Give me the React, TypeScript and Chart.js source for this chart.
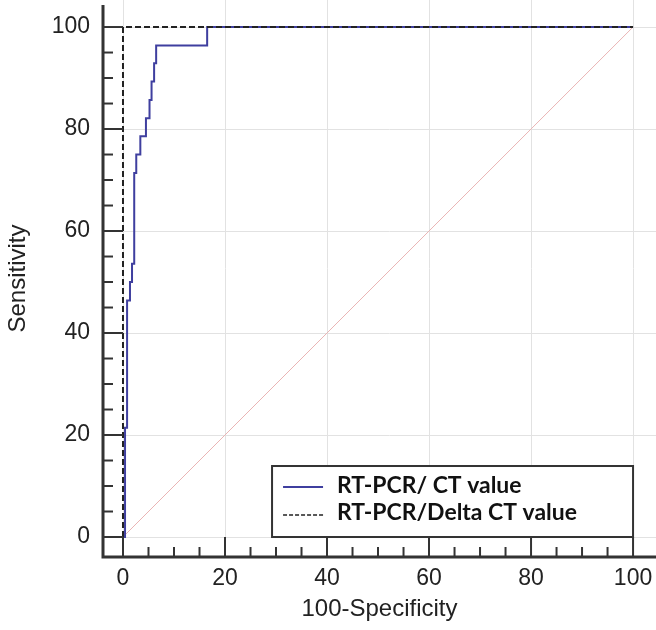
import React, { useEffect, useRef } from 'react';
import { Chart, registerables } from 'chart.js';

Chart.register(...registerables);

// ROC operating points (100-Specificity, Sensitivity)
const fprCT = [0, 0.4, 0.8, 1.37, 1.77, 2.2, 2.6, 3.4, 4.5, 5.2, 5.6, 6.1, 6.5, 16.5, 100];
const tprCT = [0, 21.4, 46.4, 50.0, 53.6, 71.4, 75.0, 78.6, 82.1, 85.7, 89.3, 92.9, 96.4, 100, 100];
const fprDelta = [0, 0, 100];
const tprDelta = [0, 100, 100];
const refX = [0, 100];
const refY = [0, 100];
const majorTicks = [0, 20, 40, 60, 80, 100];
const minorStep = 5;
const legendLabels = ['RT-PCR/ CT value', 'RT-PCR/Delta CT value'];
const xTitle = '100-Specificity';
const yTitle = 'Sensitivity';

const BLUE = '#3f3f9f';
const DARK = '#222222';
const AXIS = '#333333';
const GRID = '#e2e2e2';
const DIAG = '#eab4b4';
const FONT = "'Liberation Sans', Arial, sans-serif";

const toPts = (xs: number[], ys: number[]) => xs.map((v, i) => ({ x: v, y: ys[i] }));

const decor = {
  id: 'decor',
  beforeDatasetsDraw(chart: any) {
    const { ctx, chartArea, scales } = chart;
    const x = scales.x, y = scales.y;
    const x0 = x.getPixelForValue(0);
    const y0 = y.getPixelForValue(0);
    ctx.save();
    ctx.strokeStyle = GRID;
    ctx.lineWidth = 1;
    majorTicks.forEach((v) => {
      const px = Math.round(x.getPixelForValue(v)) + 0.5;
      ctx.beginPath();
      ctx.moveTo(px, y0);
      ctx.lineTo(px, chartArea.top);
      ctx.stroke();
      const py = Math.round(y.getPixelForValue(v)) + 0.5;
      ctx.beginPath();
      ctx.moveTo(x0, py);
      ctx.lineTo(chartArea.right, py);
      ctx.stroke();
    });
    ctx.restore();
  },
  afterDraw(chart: any) {
    const { ctx, chartArea, scales } = chart;
    const x = scales.x, y = scales.y;
    const x0 = x.getPixelForValue(0);
    const y0 = y.getPixelForValue(0);
    const L = chartArea.left;
    const B = chartArea.bottom;
    ctx.save();
    // axis lines
    ctx.strokeStyle = AXIS;
    ctx.lineWidth = 3;
    ctx.beginPath();
    ctx.moveTo(L, chartArea.top + 5);
    ctx.lineTo(L, B + 1.5);
    ctx.moveTo(L - 1.5, B);
    ctx.lineTo(chartArea.right, B);
    ctx.stroke();
    // inward tick marks
    ctx.lineWidth = 2;
    for (let v = 0; v <= 100; v += minorStep) {
      const major = v % 20 === 0;
      const py = y.getPixelForValue(v);
      ctx.beginPath();
      ctx.moveTo(L, py);
      ctx.lineTo(major ? x0 : L + 10, py);
      ctx.stroke();
      const px = x.getPixelForValue(v);
      ctx.beginPath();
      ctx.moveTo(px, B);
      ctx.lineTo(px, major ? y0 : B - 10);
      ctx.stroke();
    }
    // legend box anchored at (100, 0)
    const right = x.getPixelForValue(100);
    const bottom = y0;
    const w = 361, h = 71;
    const left = right - w, top = bottom - h;
    ctx.fillStyle = '#ffffff';
    ctx.fillRect(left, top, w, h);
    ctx.strokeStyle = AXIS;
    ctx.lineWidth = 2;
    ctx.strokeRect(left, top, w, h);
    // samples
    ctx.strokeStyle = BLUE;
    ctx.lineWidth = 2;
    ctx.beginPath();
    ctx.moveTo(left + 11, top + 21);
    ctx.lineTo(left + 51, top + 21);
    ctx.stroke();
    ctx.strokeStyle = DARK;
    ctx.lineWidth = 1.5;
    ctx.setLineDash([4, 2]);
    ctx.beginPath();
    ctx.moveTo(left + 11, top + 49);
    ctx.lineTo(left + 51, top + 49);
    ctx.stroke();
    ctx.setLineDash([]);
    // text, sized so the longer label spans ~240px
    let size = 20;
    ctx.font = `bold ${size}px Lato, 'Open Sans', sans-serif`;
    const mw = ctx.measureText(legendLabels[1]).width;
    size = (size * 240) / mw;
    ctx.font = `bold ${size}px Lato, 'Open Sans', sans-serif`;
    ctx.fillStyle = '#111111';
    ctx.textAlign = 'left';
    ctx.textBaseline = 'alphabetic';
    ctx.fillText(legendLabels[0], left + 65, top + 27);
    ctx.fillText(legendLabels[1], left + 65, top + 54);
    ctx.restore();
  },
};

export default function App() {
  const ref = useRef<HTMLCanvasElement | null>(null);
  useEffect(() => {
    document.body.style.margin = '0';
    const canvas = ref.current;
    if (!canvas) return;
    const chart = new Chart(canvas, {
      type: 'scatter',
      data: {
        datasets: [
          {
            label: 'Reference',
            data: toPts(refX, refY),
            showLine: true,
            borderColor: DIAG,
            borderWidth: 1,
            pointRadius: 0,
            order: 3,
          },
          {
            label: legendLabels[0],
            data: toPts(fprCT, tprCT),
            showLine: true,
            stepped: 'before',
            borderColor: BLUE,
            borderWidth: 2,
            pointRadius: 0,
            order: 2,
          },
          {
            label: legendLabels[1],
            data: toPts(fprDelta, tprDelta),
            showLine: true,
            borderColor: DARK,
            borderWidth: 2,
            borderDash: [6, 3],
            pointRadius: 0,
            order: 1,
          },
        ],
      } as any,
      options: {
        responsive: false,
        animation: false,
        layout: { padding: 0 },
        plugins: { legend: { display: false }, tooltip: { enabled: false } },
        scales: {
          x: {
            type: 'linear',
            min: -3.92,
            max: 104.5,
            grid: { display: false, drawTicks: false },
            border: { display: false },
            afterBuildTicks: (s: any) => {
              s.ticks = majorTicks.map((v) => ({ value: v }));
            },
            afterFit: (s: any) => {
              s.height = 73;
              s.paddingLeft = 0;
              s.paddingRight = 0;
            },
            ticks: {
              autoSkip: false,
              maxRotation: 0,
              padding: 8,
              color: DARK,
              font: { family: FONT, size: 23 },
            },
            title: {
              display: true,
              text: xTitle,
              color: DARK,
              font: { family: FONT, size: 24 },
              padding: { top: 0, bottom: 6 },
            },
          },
          y: {
            type: 'linear',
            min: -3.92,
            max: 105.3,
            grid: { display: false, drawTicks: false },
            border: { display: false },
            afterBuildTicks: (s: any) => {
              s.ticks = majorTicks.map((v) => ({ value: v }));
            },
            afterFit: (s: any) => {
              s.width = 103;
              s.paddingTop = 0;
              s.paddingBottom = 0;
            },
            ticks: {
              autoSkip: false,
              padding: 13,
              color: DARK,
              font: { family: FONT, size: 23 },
            },
            title: {
              display: true,
              text: yTitle,
              color: DARK,
              font: { family: FONT, size: 24 },
              padding: { top: 4, bottom: 0 },
            },
          },
        },
      } as any,
      plugins: [decor],
    });
    return () => chart.destroy();
  }, []);
  return (
    <div style={{ width: 656, height: 630 }}>
      <canvas ref={ref} width={656} height={630} style={{ display: 'block' }} />
    </div>
  );
}
